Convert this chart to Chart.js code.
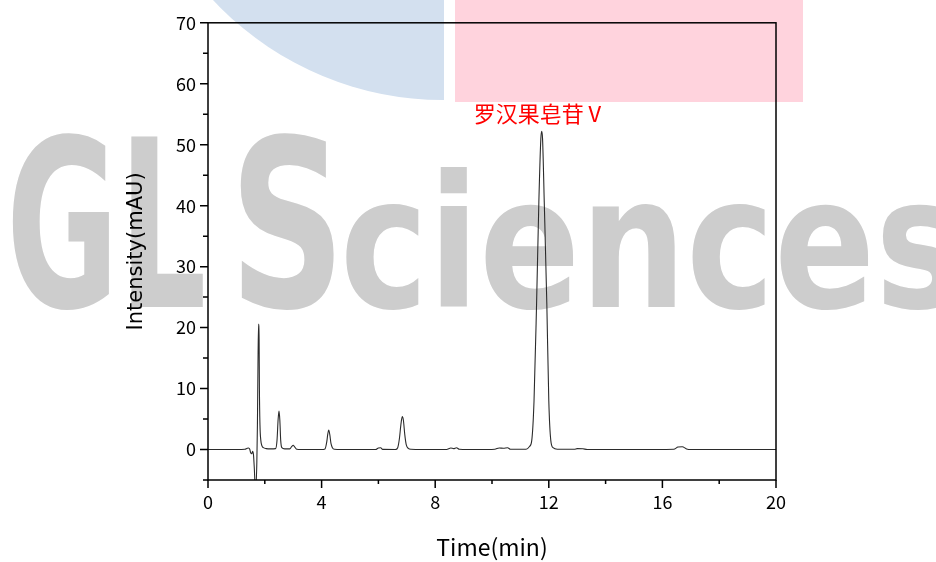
<!DOCTYPE html>
<html>
<head>
<meta charset="utf-8">
<title>罗汉果皂苷V chromatogram</title>
<script src="https://cdn.jsdelivr.net/npm/chart.js@4.4.0/dist/chart.umd.min.js"></script>
<style>
  html, body { margin: 0; padding: 0; background: #fff; }
  #wrap { width: 936px; height: 562px; position: relative; }
</style>
</head>
<body>
<div id="wrap"><canvas id="chart" width="936" height="562"></canvas></div>
<script>
// ── Data ─────────────────────────────────────────────────────────────────────

const TIME_MIN = [
  0, 0.5, 1.0, 1.3, 1.38, 1.43, 1.47, 1.50, 1.54, 1.57, 1.60, 1.63, 1.66, 1.69,
  1.72, 1.74, 1.76, 1.78, 1.80, 1.81, 1.83, 1.86, 1.90, 1.95, 2.05, 2.2,
  2.38, 2.43, 2.47, 2.50, 2.53, 2.56, 2.60, 2.7, 2.88, 2.95, 3.0, 3.05, 3.12, 3.3,
  4.0, 4.12, 4.18, 4.22, 4.25, 4.29, 4.33, 4.38, 4.45, 5.0,
  5.9, 6.0, 6.08, 6.15, 6.6, 6.68, 6.74, 6.79, 6.84, 6.88, 6.93, 6.98, 7.05, 7.15,
  8.0, 8.4, 8.55, 8.65, 8.75, 8.85, 9.5, 10.1, 10.25, 10.4, 10.55, 10.65,
  11.2, 11.32, 11.40, 11.48, 11.57, 11.65, 11.72, 11.75, 11.78, 11.84, 11.93, 12.0,
  12.07, 12.15, 12.3, 12.9, 13.0, 13.2, 13.35, 15.0, 16.4, 16.55, 16.7, 16.85, 17.0, 20.0
];
const INTENSITY_MAU = [
  0, 0, 0, 0.05, 0.2, 0.25, 0.05, -0.5, -0.7, -0.3, -0.8, -3, -5.8, -6,
  -2, 4, 14, 20.6, 18, 10, 4, 1.5, 0.6, 0.3, 0.15, 0.1,
  0.15, 1.5, 5, 6.3, 4.8, 1.5, 0.3, 0.1, 0.1, 0.5, 0.7, 0.45, 0.05, 0,
  0, 0.1, 1.2, 2.6, 3.2, 2.4, 1.0, 0.3, 0.05, 0,
  0, 0.25, 0.3, 0.02, 0, 0.3, 1.8, 4.0, 5.4, 4.8, 2.4, 0.8, 0.2, 0.05,
  0, 0, 0.25, 0.15, 0.3, 0.05, 0, 0.05, 0.25, 0.2, 0.3, 0.05,
  0.05, 0.5, 1.5, 8, 24, 40.6, 51, 52.2, 51, 40.6, 24, 8,
  1.5, 0.3, 0.05, 0.05, 0.15, 0.12, 0, 0, 0.05, 0.4, 0.45, 0.1, 0, 0
];

const X_MAJOR = [0, 4, 8, 12, 16, 20];
const X_MINOR = [2, 6, 10, 14, 18];
const Y_MAJOR = [0, 10, 20, 30, 40, 50, 60, 70];
const Y_MINOR = [-5, 5, 15, 25, 35, 45, 55, 65];

const PEAK_LABEL = '罗汉果皂苷Ⅴ';
const PEAK_AT = [11.75, 55.1];

// logo pieces: text, left, right, vertical stretch
const WATERMARK = [
  ['GL', 12, 203, 2.33],
  ['S', 240, 335, 2.33],
  ['ciences', 345, 958, 1.84],
];

// ── Decoration plugins ───────────────────────────────────────────────────────

function drawLogo(ctx) {
  const base = 307;
  ctx.font = 'bold 100px "DejaVu Sans Condensed", "DejaVu Sans"';
  ctx.fillStyle = '#cdcdcd';
  ctx.textBaseline = 'alphabetic';
  WATERMARK.forEach(([txt, x0, x1, sy]) => {
    const m = ctx.measureText(txt);
    ctx.save();
    ctx.translate(x0, base);
    ctx.scale((x1 - x0) / (m.actualBoundingBoxRight + m.actualBoundingBoxLeft), sy);
    ctx.fillText(txt, m.actualBoundingBoxLeft, 0);
    ctx.restore();
  });
}

const backdrop = {
  id: 'backdrop',
  beforeDraw(chart) {
    const ctx = chart.ctx;
    ctx.save();
    // blue quarter circle, top left
    ctx.beginPath();
    ctx.rect(0, 0, 444, 120);
    ctx.clip();
    ctx.fillStyle = '#d3e0ef';
    ctx.beginPath();
    ctx.arc(443, -214.5, 314.5, 0, Math.PI * 2);
    ctx.fill();
    ctx.restore();

    // pink block, top right
    ctx.save();
    ctx.fillStyle = '#ffd3dd';
    ctx.fillRect(455, 0, 348, 102);
    drawLogo(ctx);
    ctx.restore();
  }
};

const frame = {
  id: 'frame',
  afterDraw(chart) {
    const { ctx, chartArea: a, scales: { x, y } } = chart;
    ctx.save();
    ctx.strokeStyle = '#000';
    ctx.lineWidth = 1.5;
    ctx.strokeRect(a.left, a.top, a.right - a.left, a.bottom - a.top);

    ctx.beginPath();
    X_MAJOR.forEach(v => { const px = x.getPixelForValue(v); ctx.moveTo(px, a.bottom); ctx.lineTo(px, a.bottom + 8); });
    X_MINOR.forEach(v => { const px = x.getPixelForValue(v); ctx.moveTo(px, a.bottom); ctx.lineTo(px, a.bottom + 4); });
    Y_MAJOR.forEach(v => { const py = y.getPixelForValue(v); ctx.moveTo(a.left, py); ctx.lineTo(a.left - 8, py); });
    Y_MINOR.forEach(v => { const py = y.getPixelForValue(v); ctx.moveTo(a.left, py); ctx.lineTo(a.left - 5, py); });
    ctx.stroke();

    ctx.fillStyle = '#ff0000';
    ctx.font = '22px "Noto Sans CJK SC"';
    ctx.textAlign = 'center';
    ctx.textBaseline = 'middle';
    ctx.fillText(PEAK_LABEL, x.getPixelForValue(PEAK_AT[0]) - 2, y.getPixelForValue(PEAK_AT[1]));
    ctx.restore();
  }
};

// ── Chart ────────────────────────────────────────────────────────────────────

const points = TIME_MIN.map((t, i) => ({ x: t, y: INTENSITY_MAU[i] }));
const tickFont = { family: '"Noto Sans CJK SC"', size: 18 };

new Chart(document.getElementById('chart'), {
  type: 'line',
  data: {
    datasets: [{
      data: points,
      borderColor: '#2b2b2b',
      borderWidth: 1.1,
      pointRadius: 0,
      cubicInterpolationMode: 'monotone',
      fill: false,
    }],
  },
  options: {
    responsive: false,
    animation: false,
    devicePixelRatio: 1,
    layout: { padding: { left: 0, right: 160, top: 20, bottom: 0 } },
    plugins: { legend: { display: false }, tooltip: { enabled: false } },
    scales: {
      x: {
        type: 'linear', min: 0, max: 20,
        grid: { display: false, drawTicks: false },
        border: { display: false },
        afterBuildTicks: s => { s.ticks = X_MAJOR.map(v => ({ value: v })); },
        afterFit: s => { s.height = 82; },
        ticks: { color: '#000', font: tickFont, padding: 11, maxRotation: 0, autoSkip: false },
        title: {
          display: true, text: 'Time(min)', color: '#000',
          font: { family: '"Noto Sans CJK SC"', size: 23 },
          padding: { top: 0, bottom: 1 },
        },
      },
      y: {
        type: 'linear', min: -5, max: 70,
        grid: { display: false, drawTicks: false },
        border: { display: false },
        afterBuildTicks: s => { s.ticks = Y_MAJOR.map(v => ({ value: v })); },
        afterFit: s => { s.width = 208; },
        ticks: { color: '#000', font: tickFont, padding: 12, autoSkip: false },
        title: {
          display: true, text: 'Intensity(mAU)', color: '#000',
          font: { family: '"DejaVu Sans"', size: 21 },
          padding: { top: 124, bottom: 0 },
        },
      },
    },
  },
  plugins: [backdrop, frame],
});
</script>
</body>
</html>
